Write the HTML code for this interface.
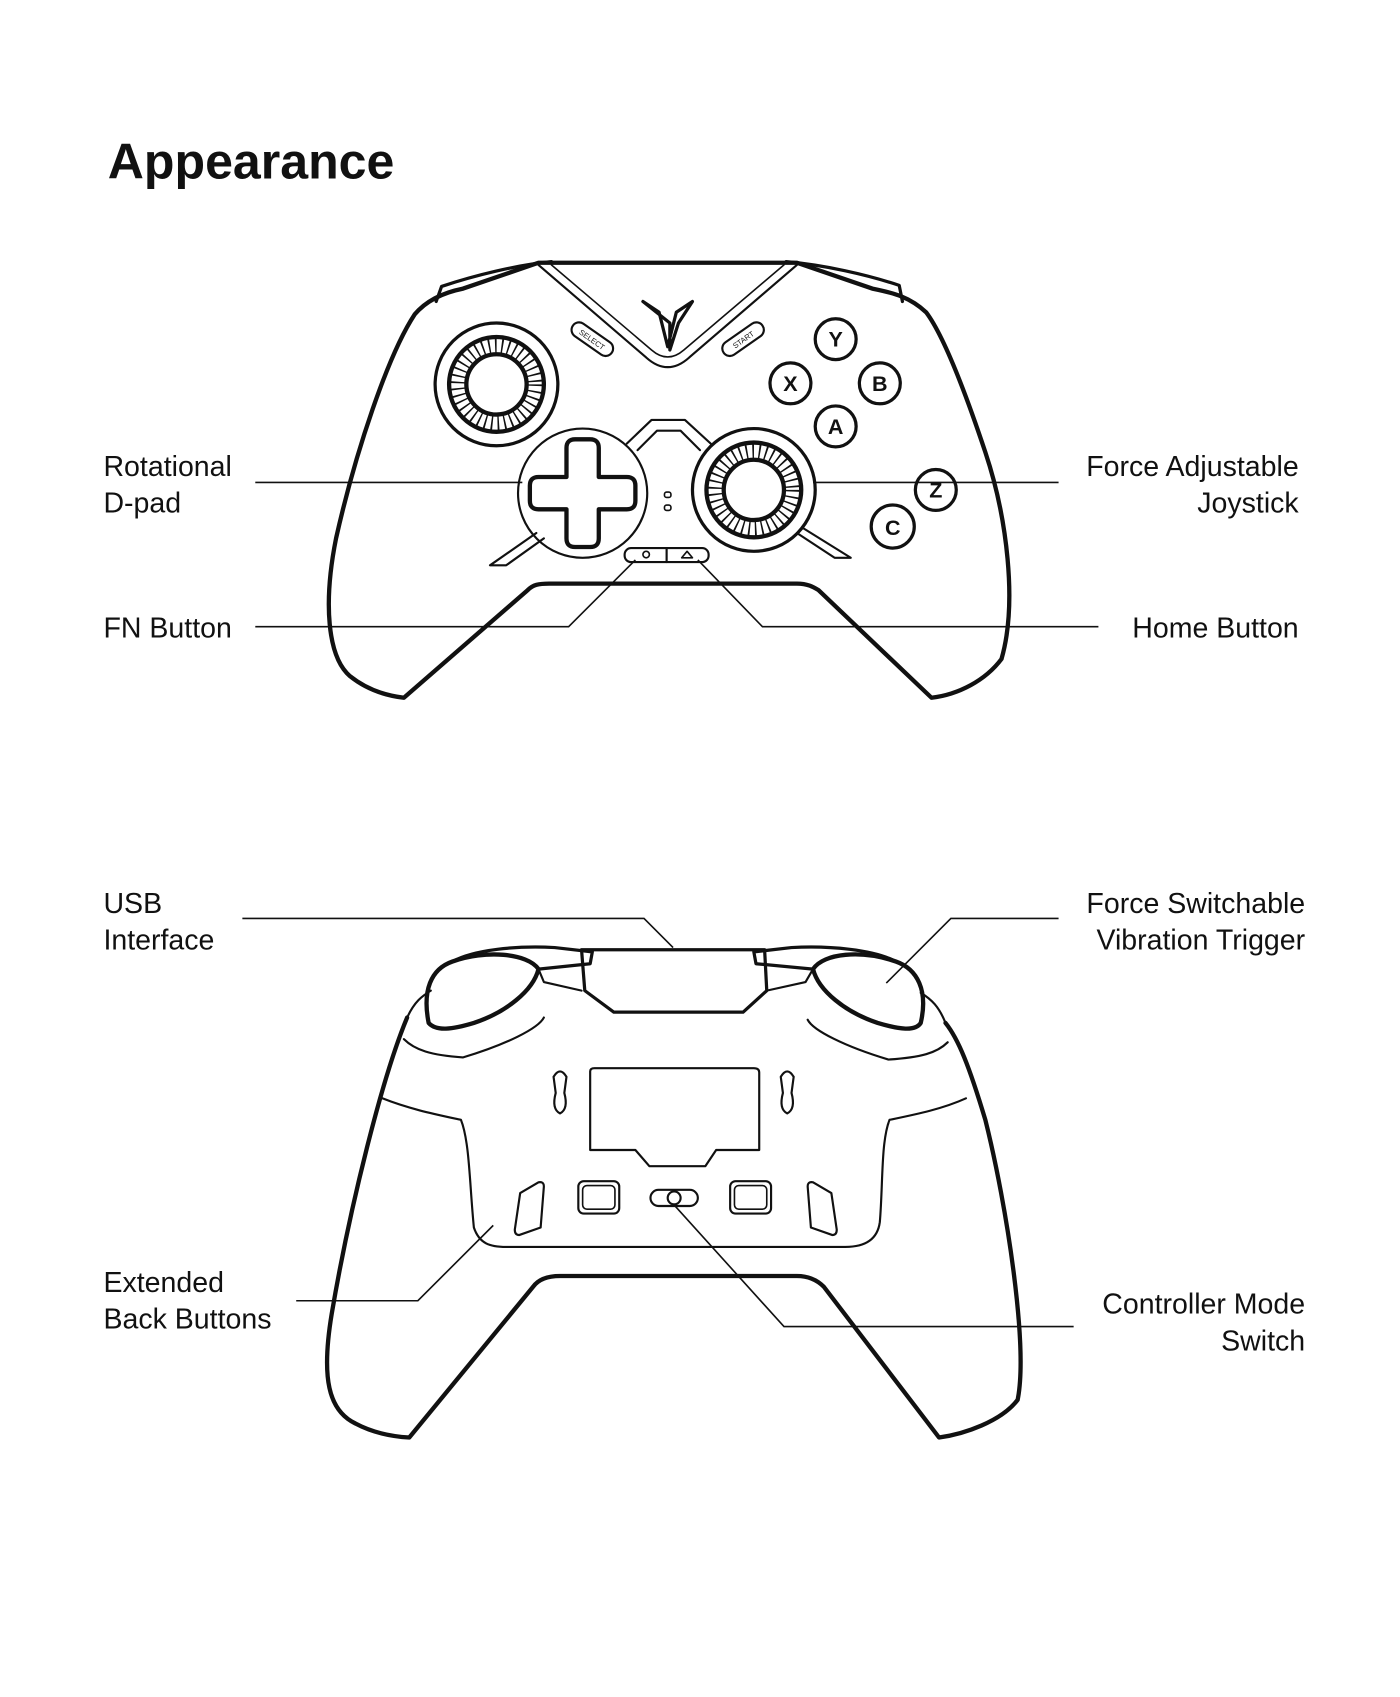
<!DOCTYPE html>
<html><head><meta charset="utf-8"><style>
html,body{margin:0;padding:0;background:#fff;}
svg{display:block;}
text{font-family:"Liberation Sans",sans-serif;fill:#111;}
</style></head><body>
<svg width="1400" height="1697" viewBox="0 0 1300 1576" xmlns="http://www.w3.org/2000/svg">
<text x="100" y="166" font-size="46.5" font-weight="bold">Appearance</text>

<g fill="none" stroke="#111" stroke-linecap="round" stroke-linejoin="round">
<path stroke-width="4" d="M385,292 C360,330 330,420 312,500 C300,560 304,610 325,628 C340,640 358,646 375,648 L490,548 C495,543 500,542 510,542 L740,542 C750,542 755,545 760,548 L865,648 C890,645 915,632 930,612 C945,560 935,480 915,420 C895,360 875,310 860,290 C845,276 830,272 810,268 L740,244 L500,244 L430,268 C410,272 395,280 385,292 Z"/>
<path stroke-width="3" d="M405,280 L410,266 C440,256 480,246 512,243"/>
<path stroke-width="3" d="M838,280 L835,265 C805,255 765,246 730,243"/>
<path stroke-width="2" d="M500,246 L600,332 Q620,350 640,332 L740,246"/>
<path stroke-width="1.5" d="M512,246 L605,325 Q620,338 635,325 L728,246"/>
<path stroke-width="3" d="M597,280 L612,290 L620,322 L628,290 L643,280 L630,300 L622,325 L622,300 L612,292 Z"/>
<rect x="528" y="308" width="44" height="14" rx="7" stroke-width="2" transform="rotate(35 550 315)"/>
<text x="550" y="318" font-size="7" text-anchor="middle" transform="rotate(35 550 315)" stroke="none">SELECT</text>
<rect x="668" y="308" width="44" height="14" rx="7" stroke-width="2" transform="rotate(-35 690 315)"/>
<text x="690" y="318" font-size="7" text-anchor="middle" transform="rotate(-35 690 315)" stroke="none">START</text>
<circle cx="461" cy="357" r="57" stroke-width="3"/>
<circle cx="461" cy="357" r="44" stroke-width="4"/>
<circle cx="461" cy="357" r="28" stroke-width="4"/>
<circle cx="461" cy="357" r="36" stroke-width="14" stroke-dasharray="1.5 4.5" stroke-linecap="butt"/>
<circle cx="700" cy="455" r="57" stroke-width="3"/>
<circle cx="700" cy="455" r="44" stroke-width="4"/>
<circle cx="700" cy="455" r="28" stroke-width="4"/>
<circle cx="700" cy="455" r="36" stroke-width="14" stroke-dasharray="1.5 4.5" stroke-linecap="butt"/>
<path stroke-width="2" d="M582,412 L605,390 L636,390 L660,412"/>
<path stroke-width="2" d="M592,418 L610,400 L632,400 L650,418"/>
<path stroke-width="2" d="M498,495 L455,525 L470,525 L505,500"/>
<path stroke-width="2" d="M745,490 L790,518 L775,518 L740,495"/>
<circle cx="541" cy="458" r="60" stroke-width="2"/>
<path stroke-width="4" d="M526,416 Q526,408 534,408 L548,408 Q556,408 556,416 L556,443 L582,443 Q590,443 590,451 L590,465 Q590,473 582,473 L556,473 L556,500 Q556,508 548,508 L534,508 Q526,508 526,500 L526,473 L500,473 Q492,473 492,465 L492,451 Q492,443 500,443 L526,443 Z"/>
<rect x="617" y="457" width="6" height="5" rx="2" stroke-width="1.5"/>
<rect x="617" y="469" width="6" height="5" rx="2" stroke-width="1.5"/>
<rect x="580" y="509" width="78" height="13" rx="6" stroke-width="2"/>
<line x1="619" y1="509" x2="619" y2="522" stroke-width="2"/>
<circle cx="600" cy="515" r="3" stroke-width="1.5"/>
<path stroke-width="1.5" d="M633,518 L638,512 L643,518 Z"/>
<circle cx="776" cy="315" r="19" stroke-width="3"/>
<circle cx="734" cy="356" r="19" stroke-width="3"/>
<circle cx="817" cy="356" r="19" stroke-width="3"/>
<circle cx="776" cy="396" r="19" stroke-width="3"/>
<circle cx="869" cy="455" r="19" stroke-width="3"/>
<circle cx="829" cy="489" r="20" stroke-width="3"/>
</g>
<g font-weight="bold" font-size="20" text-anchor="middle">
<text x="776" y="322">Y</text><text x="734" y="363">X</text><text x="817" y="363">B</text><text x="776" y="403">A</text><text x="869" y="462">Z</text><text x="829" y="497">C</text>
</g>

<g fill="none" stroke="#111" stroke-width="1.5">
<path d="M237,448 L485,448"/>
<path d="M755,448 L983,448"/>
<path d="M237,582 L528,582 L590,520"/>
<path d="M1020,582 L708,582 L648,520"/>
<path d="M225,853 L598,853 L625,880"/>
<path d="M983,853 L883,853 L823,913"/>
<path d="M275,1208 L388,1208 L458,1138"/>
<path d="M997,1232 L728,1232 L625,1118"/>
</g>

<g font-size="26.5">
<text x="96" y="442">Rotational</text>
<text x="96" y="476">D-pad</text>
<text x="96" y="592">FN Button</text>
<text x="1206" y="442" text-anchor="end">Force Adjustable</text>
<text x="1206" y="476" text-anchor="end">Joystick</text>
<text x="1206" y="592" text-anchor="end">Home Button</text>
<text x="96" y="848">USB</text>
<text x="96" y="882">Interface</text>
<text x="1212" y="848" text-anchor="end">Force Switchable</text>
<text x="1212" y="882" text-anchor="end">Vibration Trigger</text>
<text x="96" y="1200">Extended</text>
<text x="96" y="1234">Back Buttons</text>
<text x="1212" y="1220" text-anchor="end">Controller Mode</text>
<text x="1212" y="1254" text-anchor="end">Switch</text>
</g>

<g fill="none" stroke="#111" stroke-linecap="round" stroke-linejoin="round">
<path stroke-width="4" d="M378,945 C355,1000 325,1120 308,1220 C298,1280 305,1310 330,1322 C345,1330 362,1334 380,1335 L495,1195 C500,1188 508,1185 520,1185 L740,1185 C752,1185 760,1190 765,1195 L872,1335 C895,1332 930,1320 945,1300 C955,1250 935,1120 915,1040 C900,990 890,965 878,950"/>
<path stroke-width="2" d="M378,945 C385,930 392,925 400,920"/>
<path stroke-width="2" d="M878,950 C872,935 865,928 855,922"/>
<path stroke-width="4" d="M398,950 C392,920 400,900 420,893 C450,882 490,885 500,900 C495,920 470,940 440,950 C420,956 405,958 398,950 Z"/>
<path stroke-width="3" d="M420,893 C440,882 480,878 515,880 L550,884 L548,895 L500,900"/>
<path stroke-width="4" d="M855,950 C862,920 852,900 832,893 C800,882 765,885 755,900 C760,920 785,940 815,950 C835,956 850,958 855,950 Z"/>
<path stroke-width="3" d="M832,893 C812,882 770,878 735,880 L700,884 L702,895 L755,900"/>
<path stroke-width="3" d="M540,882 L710,882 L712,920 L690,940 L570,940 L543,920 Z"/>
<path stroke-width="2" d="M500,900 L505,912 L540,920"/>
<path stroke-width="2" d="M755,900 L748,912 L712,920"/>
<path stroke-width="2" d="M375,965 C385,975 400,980 430,982 C470,970 500,955 505,945"/>
<path stroke-width="2" d="M880,968 C870,978 855,982 825,984 C785,972 755,957 750,947"/>
<path stroke-width="2" d="M355,1020 C380,1030 405,1035 428,1040 C436,1060 436,1100 440,1140 C445,1155 455,1158 470,1158 L785,1158 C805,1158 815,1150 817,1135 C820,1100 818,1060 826,1040 C850,1035 875,1030 897,1020"/>
<path stroke-width="2" d="M548,995 Q548,992 552,992 L700,992 Q705,992 705,996 L705,1068 L665,1068 L655,1083 L603,1083 L590,1068 L548,1068 Z"/>
<path stroke-width="2" d="M514,1000 Q520,990 526,1000 L524,1015 Q528,1030 520,1034 Q512,1030 516,1015 Z"/>
<path stroke-width="2" d="M725,1000 Q731,990 737,1000 L735,1015 Q739,1030 731,1034 Q723,1030 727,1015 Z"/>
<rect x="537" y="1097" width="38" height="30" rx="5" stroke-width="2"/>
<rect x="541" y="1101" width="30" height="22" rx="4" stroke-width="1.5"/>
<rect x="678" y="1097" width="38" height="30" rx="5" stroke-width="2"/>
<rect x="682" y="1101" width="30" height="22" rx="4" stroke-width="1.5"/>
<path stroke-width="2" d="M483,1108 L500,1098 Q505,1097 505,1102 L502,1140 L482,1147 Q478,1147 478,1142 Z"/>
<path stroke-width="2" d="M772,1108 L755,1098 Q750,1097 750,1102 L753,1140 L773,1147 Q777,1147 777,1142 Z"/>
<rect x="604" y="1105" width="44" height="15" rx="7.5" stroke-width="2"/>
<circle cx="626" cy="1112.5" r="6" stroke-width="2"/>
</g>
</svg>
</body></html>
